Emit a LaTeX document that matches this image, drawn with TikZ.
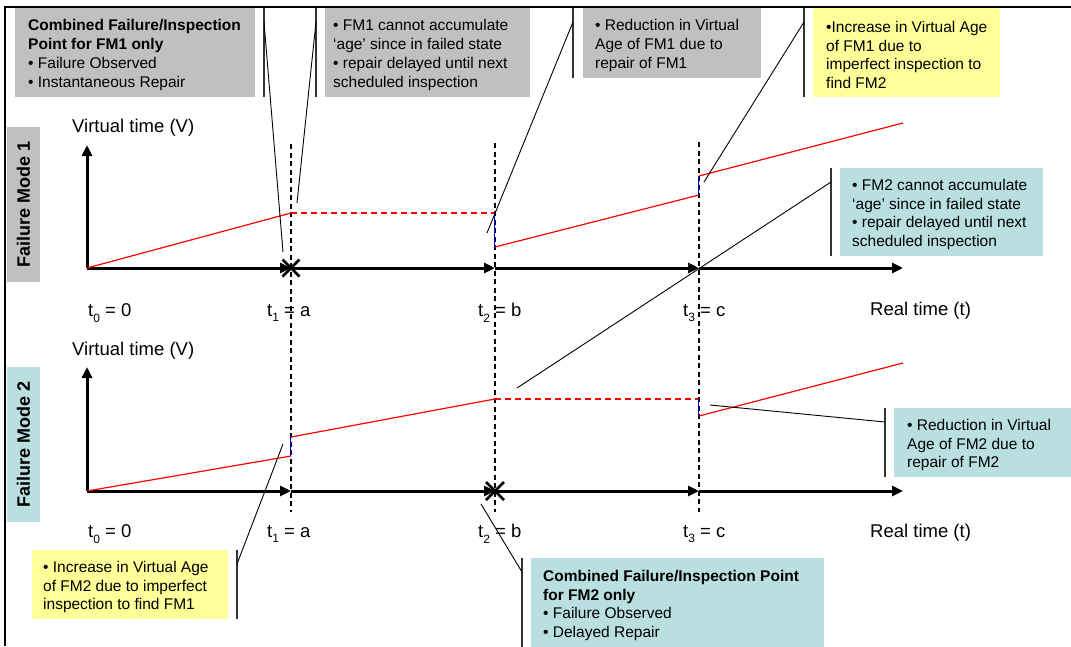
\documentclass[tikz,border=0pt]{standalone}
\usepackage{fontspec}
\setmainfont{Liberation Sans}
\usetikzlibrary{arrows.meta}
\definecolor{boxgray}{RGB}{192,192,192}
\definecolor{boxyellow}{RGB}{255,255,153}
\definecolor{boxteal}{RGB}{185,223,225}
\definecolor{agered}{RGB}{255,0,0}
\definecolor{jumpblue}{RGB}{0,0,200}
% lowered index for the t_i labels
\newcommand\tidx[1]{\raisebox{-0.3em}{\fontsize{12}{12}\selectfont #1}}

\begin{document}
\begin{tikzpicture}[x=1pt,y=-1pt,
  callbox/.style={inner sep=0, outer sep=0, anchor=north west},
  callout/.style={font=\fontsize{15.5}{18.7}\selectfont, align=left, inner sep=0, anchor=west, yshift=-2.5pt},
  accent/.style={line width=1.3pt, draw=black!80},
  leader/.style={line width=0.9pt},
  axisarrow/.style={line width=3pt, -{Triangle[length=11pt,width=10pt]}},
  timeline/.style={line width=2.4pt, dash pattern=on 5pt off 3.5pt},
  age/.style={draw=agered, line width=1.2pt},
  agehold/.style={draw=agered, line width=2.5pt, dash pattern=on 6pt off 4pt},
  jump/.style={draw=jumpblue, line width=0.9pt},
  failmark/.style={line width=2.5pt},
  axislabel/.style={font=\fontsize{18.5}{20}\selectfont, inner sep=0, anchor=west},
  modetab/.style={rotate=90, minimum width=155, minimum height=33, inner sep=0,
                  font=\bfseries\fontsize{18}{20}\selectfont}
]
\useasboundingbox (0,0) rectangle (1071,646);

% outer frame (left and top edges)
\draw[line width=2pt] (5,646) -- (5,7) -- (1071,7);

% ---- time instants ----
\coordinate (ta top) at (291,144); \coordinate (ta bot) at (291,512);
\coordinate (tb top) at (495,143); \coordinate (tb bot) at (495,512);
\coordinate (tc top) at (699,142); \coordinate (tc bot) at (699,512);
\draw[timeline] (ta top) -- (ta bot);
\draw[timeline] (tb top) -- (tb bot);
\draw[timeline] (tc top) -- (tc bot);

% ---- panel 1: failure mode 1 ----
\node[modetab, fill=boxgray] (mode1) at (23.5,204.5) {Failure Mode 1};
\coordinate (o1) at (87,268);
\coordinate (v1) at (87,145);
\coordinate (a1) at (291,268);
\coordinate (b1) at (495,268);
\coordinate (c1) at (699,268);
\coordinate (e1) at (903,268);
\draw[axisarrow] (o1) -- (v1);
\draw[axisarrow] (o1) -- (a1);
\draw[axisarrow] (a1) -- (b1);
\draw[axisarrow] (b1) -- (c1);
\draw[axisarrow] (c1) -- (e1);

\coordinate (p1a) at (291,213);
\coordinate (p1b) at (495,213);
\coordinate (p1b2) at (495,247);
\coordinate (p1c) at (699,195);
\coordinate (p1c2) at (699,176);
\coordinate (p1e) at (903,123);
\draw[age] (o1) -- (p1a);
\draw[agehold] (p1a) -- (p1b);
\draw[jump] ([xshift=-1pt]p1b) -- ([xshift=-1pt]p1b2);
\draw[age] (p1b2) -- (p1c);
\draw[jump] ([xshift=-1pt]p1c) -- ([xshift=-1pt]p1c2);
\draw[age] (p1c2) -- (p1e);

\draw[failmark] ([shift={(-8.5,-8.5)}]a1) -- ([shift={(8.5,8.5)}]a1)
                ([shift={(-8.5,8.5)}]a1) -- ([shift={(8.5,-8.5)}]a1);

\node[axislabel] (vlab1) at (72,128) {Virtual time (V)};
\node[axislabel] (t0lab1) at (88,313) {t\tidx{0} = 0};
\node[axislabel] (t1lab1) at (267,313) {t\tidx{1} = a};
\node[axislabel] (t2lab1) at (478,313) {t\tidx{2} = b};
\node[axislabel] (t3lab1) at (683,313) {t\tidx{3} = c};
\node[axislabel] (rlab1) at (870,311) {Real time (t)};

% ---- panel 2: failure mode 2 ----
\node[modetab, fill=boxteal] (mode2) at (23.5,444.5) {Failure Mode 2};
\coordinate (o2) at (87,491);
\coordinate (v2) at (87,367);
\coordinate (a2) at (291,491);
\coordinate (b2) at (495,491);
\coordinate (c2) at (699,491);
\coordinate (e2) at (903,491);
\draw[axisarrow] (o2) -- (v2);
\draw[axisarrow] (o2) -- (a2);
\draw[axisarrow] (a2) -- (b2);
\draw[axisarrow] (b2) -- (c2);
\draw[axisarrow] (c2) -- (e2);

\coordinate (p2a) at (291,456);
\coordinate (p2a2) at (291,437);
\coordinate (p2b) at (495,399);
\coordinate (p2c) at (699,399);
\coordinate (p2c2) at (699,416);
\coordinate (p2e) at (903,363);
\draw[age] (o2) -- (p2a);
\draw[jump] ([xshift=-1pt]p2a) -- ([xshift=-1pt]p2a2);
\draw[age] (p2a2) -- (p2b);
\draw[agehold] (p2b) -- (p2c);
\draw[jump] ([xshift=-1pt]p2c) -- ([xshift=-1pt]p2c2);
\draw[age] (p2c2) -- (p2e);

\draw[failmark] ([shift={(-9,-9)}]b2) -- ([shift={(9,9)}]b2)
                ([shift={(-9,9)}]b2) -- ([shift={(9,-9)}]b2);

\node[axislabel] (vlab2) at (72,351) {Virtual time (V)};
\node[axislabel] (t0lab2) at (88,534) {t\tidx{0} = 0};
\node[axislabel] (t1lab2) at (267,534) {t\tidx{1} = a};
\node[axislabel] (t2lab2) at (478,534) {t\tidx{2} = b};
\node[axislabel] (t3lab2) at (683,534) {t\tidx{3} = c};
\node[axislabel] (rlab2) at (870,533) {Real time (t)};

% ---- callout targets ----
\coordinate (tgt1) at (283,252);
\coordinate (tgt2) at (297,203);
\coordinate (tgt3) at (487,233);
\coordinate (tgt4) at (704,182);
\coordinate (tgt5) at (517,388);
\coordinate (tgt6) at (710,405);
\coordinate (tgt7) at (283,444);
\coordinate (tgt8) at (481,504);

% ---- callouts (box, accent bar, leader) ----
% FM1 failure point
\node[callbox, fill=boxgray, minimum width=240, minimum height=89] (cfm1) at (15,8) {};
\node[callout] (cfm1txt) at ([xshift=13pt]cfm1.west)
  {\textbf{Combined Failure/Inspection}\\\textbf{Point for FM1 only}\\• Failure Observed\\• Instantaneous Repair};
\draw[accent] ([xshift=9pt]cfm1.north east) -- ([xshift=9pt]cfm1.south east);
\draw[leader] ([xshift=9pt,yshift=-14pt]cfm1.north east) -- (tgt1);

% FM1 held age
\node[callbox, fill=boxgray, minimum width=205, minimum height=89] (hold1) at (325,8) {};
\node[callout] (hold1txt) at ([xshift=8pt]hold1.west)
  {• FM1 cannot accumulate\\‘age’ since in failed state\\• repair delayed until next\\scheduled inspection};
\draw[accent] ([xshift=-9pt]hold1.north west) -- ([xshift=-9pt]hold1.south west);
\draw[leader] ([xshift=-9pt,yshift=-14pt]hold1.north west) -- (tgt2);

% FM1 repair
\node[callbox, fill=boxgray, minimum width=178, minimum height=70] (rep1) at (583,8) {};
\node[callout] (rep1txt) at ([xshift=12pt]rep1.west)
  {• Reduction in Virtual\\Age of FM1 due to\\repair of FM1};
\draw[accent] ([xshift=-10pt]rep1.north west) -- ([xshift=-10pt]rep1.south west);
\draw[leader] ([xshift=-10pt,yshift=-14pt]rep1.north west) -- (tgt3);

% FM1 imperfect inspection
\node[callbox, fill=boxyellow, minimum width=187, minimum height=89] (insp1) at (813,8) {};
\node[callout] (insp1txt) at ([xshift=13pt]insp1.west)
  {•Increase in Virtual Age\\of FM1 due to\\imperfect inspection to\\find FM2};
\draw[accent] ([xshift=-9pt]insp1.north west) -- ([xshift=-9pt]insp1.south west);
\draw[leader] ([xshift=-9pt,yshift=-14pt]insp1.north west) -- (tgt4);

% FM2 held age
\node[callbox, fill=boxteal, minimum width=203, minimum height=88] (hold2) at (840,168) {};
\node[callout] (hold2txt) at ([xshift=12pt]hold2.west)
  {• FM2 cannot accumulate\\‘age’ since in failed state\\• repair delayed until next\\scheduled inspection};
\draw[accent] ([xshift=-9pt]hold2.north west) -- ([xshift=-9pt]hold2.south west);
\draw[leader] ([xshift=-9pt,yshift=-14pt]hold2.north west) -- (tgt5);

% FM2 repair
\node[callbox, fill=boxteal, minimum width=177, minimum height=69] (rep2) at (894,408) {};
\node[callout] (rep2txt) at ([xshift=13pt]rep2.west)
  {• Reduction in Virtual\\Age of FM2 due to\\repair of FM2};
\draw[accent] ([xshift=-9pt]rep2.north west) -- ([xshift=-9pt]rep2.south west);
\draw[leader] ([xshift=-9pt,yshift=-14pt]rep2.north west) -- (tgt6);

% FM2 imperfect inspection
\node[callbox, fill=boxyellow, minimum width=196, minimum height=69] (insp2) at (32,550) {};
\node[callout] (insp2txt) at ([xshift=11pt]insp2.west)
  {• Increase in Virtual Age\\of FM2 due to imperfect\\inspection to find FM1};
\draw[accent] ([xshift=9pt]insp2.north east) -- ([xshift=9pt]insp2.south east);
\draw[leader] ([xshift=9pt,yshift=-14pt]insp2.north east) -- (tgt7);

% FM2 failure point
\node[callbox, fill=boxteal, minimum width=293, minimum height=90] (cfm2) at (531,558) {};
\node[callout] (cfm2txt) at ([xshift=12pt]cfm2.west)
  {\textbf{Combined Failure/Inspection Point}\\\textbf{for FM2 only}\\• Failure Observed\\• Delayed Repair};
\draw[accent] ([xshift=-9pt]cfm2.north west) -- ([xshift=-9pt]cfm2.south west);
\draw[leader] ([xshift=-9pt,yshift=-14pt]cfm2.north west) -- (tgt8);

\end{tikzpicture}
\end{document}
